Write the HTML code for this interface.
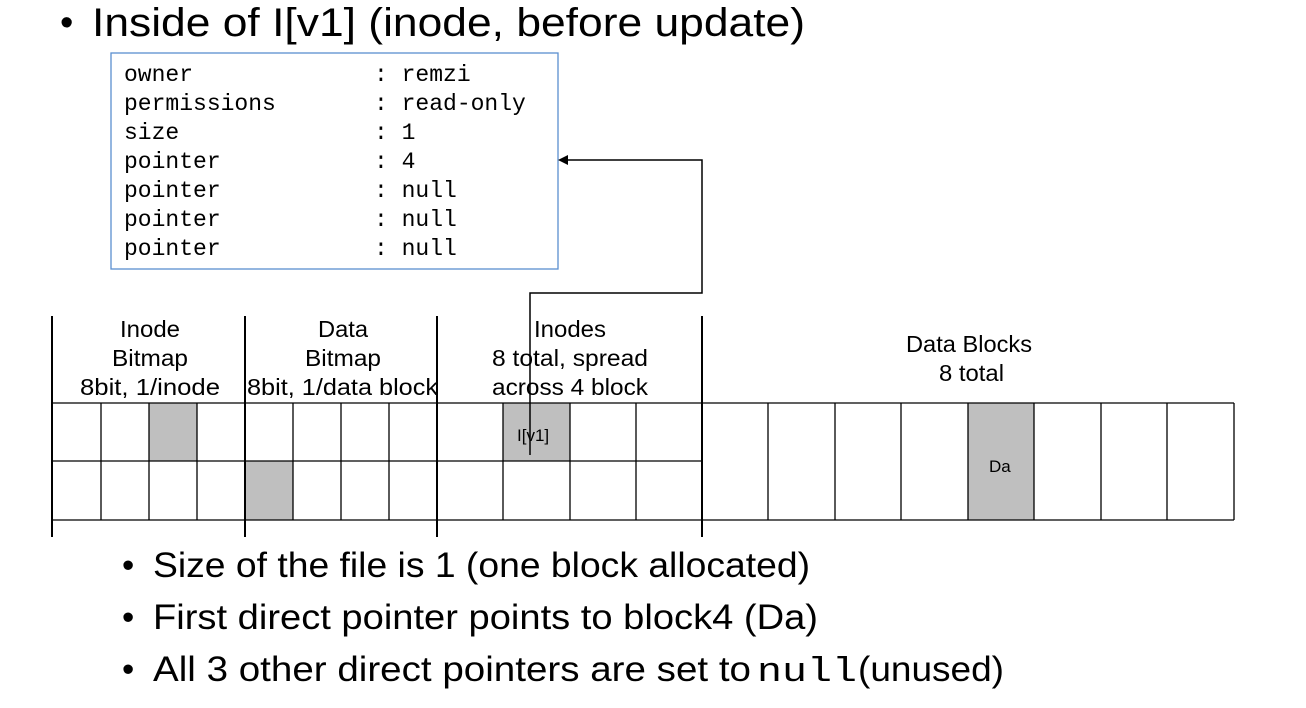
<!DOCTYPE html>
<html><head><meta charset="utf-8"><style>
html,body{margin:0;padding:0;background:#fff;width:1306px;height:708px;overflow:hidden}
svg{display:block}
.s{font-family:"Liberation Sans",sans-serif;fill:#000}
.m{font-family:"Liberation Mono",monospace;font-size:23px;fill:#000}
</style></head><body>
<svg width="1306" height="708" viewBox="0 0 1306 708" xmlns="http://www.w3.org/2000/svg">
<text class="s" x="60" y="35" font-size="38">•</text>
<text class="s" x="92" y="36" font-size="40" textLength="713" lengthAdjust="spacingAndGlyphs">Inside of I[v1] (inode, before update)</text>
<rect x="111" y="53" width="447" height="216" fill="#fff" stroke="#5b8fd0" stroke-width="1.3"/>
<g class="m">
<text x="124" y="81">owner</text><text x="374" y="81">: remzi</text>
<text x="124" y="110">permissions</text><text x="374" y="110">: read-only</text>
<text x="124" y="139">size</text><text x="374" y="139">: 1</text>
<text x="124" y="168">pointer</text><text x="374" y="168">: 4</text>
<text x="124" y="197">pointer</text><text x="374" y="197">: null</text>
<text x="124" y="226">pointer</text><text x="374" y="226">: null</text>
<text x="124" y="255">pointer</text><text x="374" y="255">: null</text>
</g>
<g fill="#bfbfbf">
<rect x="149" y="403" width="48" height="58"/>
<rect x="245" y="461" width="48" height="59"/>
<rect x="503" y="403" width="67" height="58"/>
<rect x="968" y="403" width="66" height="117"/>
</g>
<g stroke="#000" stroke-width="1.3" fill="none">
<line x1="52" y1="403" x2="1234" y2="403"/>
<line x1="52" y1="461" x2="702" y2="461"/>
<line x1="52" y1="520" x2="1234" y2="520"/>
<line x1="101" y1="403" x2="101" y2="520"/><line x1="149" y1="403" x2="149" y2="520"/><line x1="197" y1="403" x2="197" y2="520"/>
<line x1="293" y1="403" x2="293" y2="520"/><line x1="341" y1="403" x2="341" y2="520"/><line x1="389" y1="403" x2="389" y2="520"/>
<line x1="503" y1="403" x2="503" y2="520"/><line x1="570" y1="403" x2="570" y2="520"/><line x1="636" y1="403" x2="636" y2="520"/>
<line x1="768" y1="403" x2="768" y2="520"/><line x1="835" y1="403" x2="835" y2="520"/><line x1="901" y1="403" x2="901" y2="520"/>
<line x1="968" y1="403" x2="968" y2="520"/><line x1="1034" y1="403" x2="1034" y2="520"/><line x1="1101" y1="403" x2="1101" y2="520"/>
<line x1="1167" y1="403" x2="1167" y2="520"/><line x1="1234" y1="403" x2="1234" y2="520"/>
</g>
<g stroke="#000" stroke-width="2">
<line x1="52" y1="316" x2="52" y2="537"/><line x1="245" y1="316" x2="245" y2="537"/>
<line x1="437" y1="316" x2="437" y2="537"/><line x1="702" y1="316" x2="702" y2="537"/>
</g>
<g class="s" font-size="23">
<text x="120" y="337" textLength="60" lengthAdjust="spacingAndGlyphs">Inode</text>
<text x="112" y="366" textLength="76" lengthAdjust="spacingAndGlyphs">Bitmap</text>
<text x="80" y="395" textLength="140" lengthAdjust="spacingAndGlyphs">8bit, 1/inode</text>
<text x="318" y="337" textLength="50" lengthAdjust="spacingAndGlyphs">Data</text>
<text x="305" y="366" textLength="76" lengthAdjust="spacingAndGlyphs">Bitmap</text>
<text x="247" y="395" textLength="191" lengthAdjust="spacingAndGlyphs">8bit, 1/data block</text>
<text x="534" y="337" textLength="72" lengthAdjust="spacingAndGlyphs">Inodes</text>
<text x="492" y="366" textLength="156" lengthAdjust="spacingAndGlyphs">8 total, spread</text>
<text x="492" y="395" textLength="156" lengthAdjust="spacingAndGlyphs">across 4 block</text>
<text x="906" y="352" textLength="126" lengthAdjust="spacingAndGlyphs">Data Blocks</text>
<text x="939" y="381" textLength="65" lengthAdjust="spacingAndGlyphs">8 total</text>
<text x="517" y="441" font-size="17">I[v1]</text>
<text x="989" y="472" font-size="17">Da</text>
</g>
<polyline points="530,455 530,293 702,293 702,160 562,160" fill="none" stroke="#000" stroke-width="1.5"/>
<polygon points="558,160 568,155 568,165" fill="#000"/>
<g class="s" font-size="35">
<text x="122" y="577">•</text>
<text x="153" y="577" textLength="657" lengthAdjust="spacingAndGlyphs">Size of the file is 1 (one block allocated)</text>
<text x="122" y="629">•</text>
<text x="153" y="629" textLength="665" lengthAdjust="spacingAndGlyphs">First direct pointer points to block4 (Da)</text>
<text x="122" y="681">•</text>
<text x="153" y="681" textLength="598" lengthAdjust="spacingAndGlyphs">All 3 other direct pointers are set to</text>
<text x="757" y="681" font-family="Liberation Mono,monospace" font-size="34" textLength="100" lengthAdjust="spacingAndGlyphs">null</text>
<text x="858" y="681" textLength="146" lengthAdjust="spacingAndGlyphs">(unused)</text>
</g>
</svg>
</body></html>
